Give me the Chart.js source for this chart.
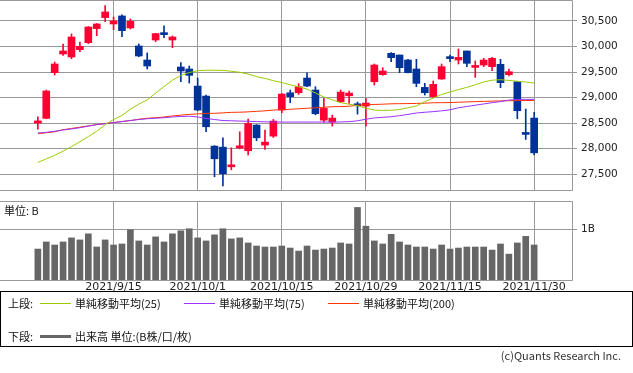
<!DOCTYPE html>
<html>
<head>
<meta charset="utf-8">
<script src="https://cdn.jsdelivr.net/npm/chart.js@4"></script>
<style>
  body { margin: 0; background: #fff; }
  #wrap { position: relative; width: 633px; height: 373px; overflow: hidden;
          font-family: 'Noto Sans CJK JP', sans-serif; font-size: 11px; color: #111; }
  canvas { position: absolute; left: 0; }
  #price { top: 0; }
  #vol { top: 196px; }
  .t { position: absolute; line-height: 14px; white-space: nowrap; }
  .ln { position: absolute; width: 31px; height: 1px; }
  #legend { position: absolute; left: 0; top: 291px; width: 631px; height: 54px; border: 1px solid #000; }
</style>
</head>
<body>
<div id="wrap">
  <canvas id="price" width="633" height="191"></canvas>
  <canvas id="vol" width="633" height="100"></canvas>
  <div class="t" style="left:4px; top:203px;">単位: B</div>
  <div id="legend"></div>
  <div class="t" style="left:8px; top:296px;">上段:</div>
  <div class="ln" style="left:40px; top:303px; background:#99cc00;"></div>
  <div class="t" style="left:75px; top:296px;">単純移動平均(25)</div>
  <div class="ln" style="left:184px; top:303px; background:#9933ff;"></div>
  <div class="t" style="left:219px; top:296px;">単純移動平均(75)</div>
  <div class="ln" style="left:328px; top:303px; background:#ff3300;"></div>
  <div class="t" style="left:363px; top:296px;">単純移動平均(200)</div>
  <div class="t" style="left:8px; top:329px;">下段:</div>
  <div class="ln" style="left:40px; top:335px; height:3px; background:#666;"></div>
  <div class="t" style="left:75px; top:329px;">出来高 単位:(B株/口/枚)</div>
  <div class="t" style="right:12px; top:348px; color:#333;">(c)Quants Research Inc.</div>
</div>
<script>
const dates = ['2021/9/2','2021/9/3','2021/9/6','2021/9/7','2021/9/8','2021/9/9','2021/9/10','2021/9/13','2021/9/14','2021/9/15',
  '2021/9/16','2021/9/17','2021/9/21','2021/9/22','2021/9/24','2021/9/27','2021/9/28','2021/9/29','2021/9/30','2021/10/1',
  '2021/10/4','2021/10/5','2021/10/6','2021/10/7','2021/10/8','2021/10/11','2021/10/12','2021/10/13','2021/10/14','2021/10/15',
  '2021/10/18','2021/10/19','2021/10/20','2021/10/21','2021/10/22','2021/10/25','2021/10/26','2021/10/27','2021/10/28','2021/10/29',
  '2021/11/1','2021/11/2','2021/11/4','2021/11/5','2021/11/8','2021/11/9','2021/11/10','2021/11/11','2021/11/12','2021/11/15',
  '2021/11/16','2021/11/17','2021/11/18','2021/11/19','2021/11/22','2021/11/24','2021/11/25','2021/11/26','2021/11/29','2021/11/30'];

const opens = [28500,28592,29487,29853,29794,29938,30075,30350,30565,30441,
  30598,30363,30010,29735,30127,30265,30127,29598,29559,29225,
  29029,28049,28029,27644,28010,27958,28461,28069,28245,28754,
  29094,29094,29382,29147,28558,28519,28918,29035,28872,28833,
  29310,29448,29866,29833,29735,29559,29199,29016,29363,29788,
  29735,29912,29590,29637,29605,29650,29448,29310,28317,28598];
const highs = [28624,29147,29696,30049,30245,30088,30389,30448,30800,30578,
  30618,30539,30049,29873,30258,30402,30206,29683,29618,29382,
  29049,28060,28212,28016,28330,28578,28470,28363,28571,29081,
  29147,29271,29486,29212,28983,28656,29147,29127,28911,28983,
  29657,29585,29879,29833,29748,29748,29278,29324,29657,29833,
  29951,29912,29716,29768,29788,29748,29559,29310,28775,28709];
const lows = [28382,28585,29441,29827,29761,29899,30056,30212,30487,30330,
  30193,30343,29800,29559,30095,30173,29977,29310,29284,28740,
  28330,27448,27271,27585,27997,27879,28154,27984,28219,28702,
  28898,29062,29212,28663,28519,28441,28905,28885,28676,28441,
  29245,29435,29703,29487,29480,29212,29049,29003,29356,29703,
  29657,29605,29395,29605,29526,29193,29422,28585,28180,27879];
const closes = [28543,29128,29657,29912,30186,30003,30382,30441,30676,30500,
  30310,30493,29814,29618,30252,30232,30186,29520,29435,28755,
  28428,27801,27507,27683,28056,28493,28212,28128,28539,29068,
  29016,29212,29225,28683,28787,28598,29107,29088,28839,28892,
  29637,29520,29781,29585,29487,29278,29095,29258,29605,29762,
  29788,29670,29600,29735,29768,29291,29506,28742,28278,27918];

const ma25 = [27730,27800,27870,27950,28040,28135,28235,28340,28470,28570,
  28650,28770,28870,28955,29085,29215,29340,29430,29490,29525,
  29535,29535,29532,29515,29495,29460,29410,29375,29330,29295,
  29250,29210,29165,29090,29010,28955,28900,28870,28840,28790,
  28755,28748,28752,28765,28800,28835,28920,28990,29060,29110,
  29155,29200,29250,29305,29340,29350,29335,29320,29304,29285];
const ma75 = [28306,28320,28340,28365,28385,28410,28440,28470,28490,28510,
  28530,28550,28570,28585,28595,28605,28620,28630,28635,28620,
  28590,28570,28550,28545,28540,28535,28530,28525,28522,28520,
  28520,28520,28520,28520,28520,28520,28522,28528,28545,28575,
  28600,28613,28625,28645,28670,28698,28712,28724,28740,28760,
  28800,28825,28850,28875,28900,28920,28950,28962,28965,28965];
const ma200 = [28293,28310,28330,28370,28395,28420,28445,28470,28490,28510,
  28530,28550,28575,28595,28605,28620,28640,28655,28670,28680,
  28688,28692,28700,28710,28713,28720,28730,28740,28755,28765,
  28770,28780,28790,28800,28810,28820,28823,28830,28850,28858,
  28865,28870,28878,28880,28882,28885,28890,28898,28900,28902,
  28908,28915,28920,28925,28930,28935,28938,28940,28942,28943];

// 出来高 (B)
const volumes = [0.61,0.75,0.69,0.75,0.83,0.79,0.91,0.65,0.79,0.69,
  0.71,0.99,0.77,0.69,0.85,0.75,0.91,0.97,1.01,0.83,
  0.77,0.89,1.01,0.81,0.83,0.73,0.67,0.65,0.65,0.67,
  0.63,0.57,0.67,0.59,0.61,0.63,0.73,0.71,1.43,1.06,
  0.77,0.71,0.90,0.75,0.69,0.65,0.65,0.61,0.69,0.61,
  0.63,0.65,0.65,0.65,0.59,0.71,0.51,0.73,0.86,0.69];

const tickDates = ['2021/9/15','2021/10/1','2021/10/15','2021/10/29','2021/11/15','2021/11/30'];
const priceTicks = [27500, 28000, 28500, 29000, 29500, 30000, 30500];
const volTicks = [1];

const UP = '#ff0033', DOWN = '#003399', GRID = '#999999';

Chart.defaults.font.family = "'DejaVu Sans', sans-serif";
Chart.defaults.font.size = 10.5;
Chart.defaults.color = '#222';
Chart.defaults.animation = false;
Chart.defaults.events = [];

const idx = dates.map((d, i) => i);
const tickIdx = tickDates.map(d => dates.indexOf(d));
const colors = idx.map(i => closes[i] >= opens[i] ? UP : DOWN);

// plot frame: top, right, bottom (no left line in the original)
const frame = {
  id: 'frame',
  beforeDatasetsDraw(chart) {
    const { ctx, chartArea: a } = chart;
    const l = Math.round(a.left), r = Math.round(a.right) + 0.5;
    const t = Math.round(a.top) + 0.5, b = Math.round(a.bottom) + 0.5;
    ctx.save();
    ctx.strokeStyle = GRID;
    ctx.lineWidth = 1;
    ctx.beginPath();
    ctx.moveTo(l, t); ctx.lineTo(r, t); ctx.lineTo(r, b); ctx.lineTo(l, b);
    ctx.stroke();
    ctx.restore();
  }
};

function xScale(showLabels) {
  return {
    type: 'linear',
    min: -4.5,
    max: dates.length + 3.5,
    offset: false,
    grid: { color: GRID, drawTicks: false, offset: false },
    border: { display: false },
    ticks: {
      display: showLabels,
      autoSkip: false,
      maxRotation: 0,
      padding: 1,
      font: { size: 11 },
      callback: (v) => dates[v]
    },
    afterBuildTicks: (s) => { s.ticks = tickIdx.map(v => ({ value: v })); },
    afterFit: (s) => { s.height = showLabels ? 16 : 0; s.paddingLeft = 0; s.paddingRight = 0; }
  };
}

function yScale(min, max, ticks, fmt) {
  return {
    type: 'linear',
    position: 'right',
    min: min,
    max: max,
    grid: { color: GRID, tickLength: 5 },
    border: { display: false },
    ticks: { padding: 4, callback: fmt },
    afterBuildTicks: (s) => { s.ticks = ticks.map(v => ({ value: v })); },
    afterFit: (s) => { s.width = 61; s.paddingTop = 0; s.paddingBottom = 0; }
  };
}

new Chart(document.getElementById('price'), {
  type: 'bar',
  data: {
    datasets: [
      { type: 'line', data: idx.map(i => ({ x: i, y: ma25[i] })), borderColor: '#99cc00', borderWidth: 1, pointRadius: 0, order: 0 },
      { type: 'line', data: idx.map(i => ({ x: i, y: ma75[i] })), borderColor: '#9933ff', borderWidth: 1, pointRadius: 0, order: 1 },
      { type: 'line', data: idx.map(i => ({ x: i, y: ma200[i] })), borderColor: '#ff3300', borderWidth: 1, pointRadius: 0, order: 2 },
      { data: idx.map(i => ({ x: i, y: [opens[i], closes[i]] })), backgroundColor: colors, barThickness: 7, minBarLength: 2, grouped: false, order: 3 },
      { data: idx.map(i => ({ x: i, y: [lows[i], highs[i]] })), backgroundColor: colors, barThickness: 1, grouped: false, order: 4 }
    ]
  },
  options: {
    responsive: false,
    layout: { padding: { top: 0, left: 0, right: 0, bottom: 1 } },
    plugins: { legend: { display: false }, tooltip: { enabled: false } },
    scales: {
      x: xScale(false),
      y: yScale(27190, 30910, priceTicks, (v) => v.toLocaleString('en-US'))
    }
  },
  plugins: [frame]
});

new Chart(document.getElementById('vol'), {
  type: 'bar',
  data: {
    datasets: [
      { data: idx.map(i => ({ x: i, y: volumes[i] })), backgroundColor: '#666666', barThickness: 6 }
    ]
  },
  options: {
    responsive: false,
    layout: { padding: { top: 5, left: 0, right: 0, bottom: 0 } },
    plugins: { legend: { display: false }, tooltip: { enabled: false } },
    scales: {
      x: xScale(true),
      y: yScale(0, 1.557, volTicks, (v) => v + 'B')
    }
  },
  plugins: [frame]
});
</script>
</body>
</html>
